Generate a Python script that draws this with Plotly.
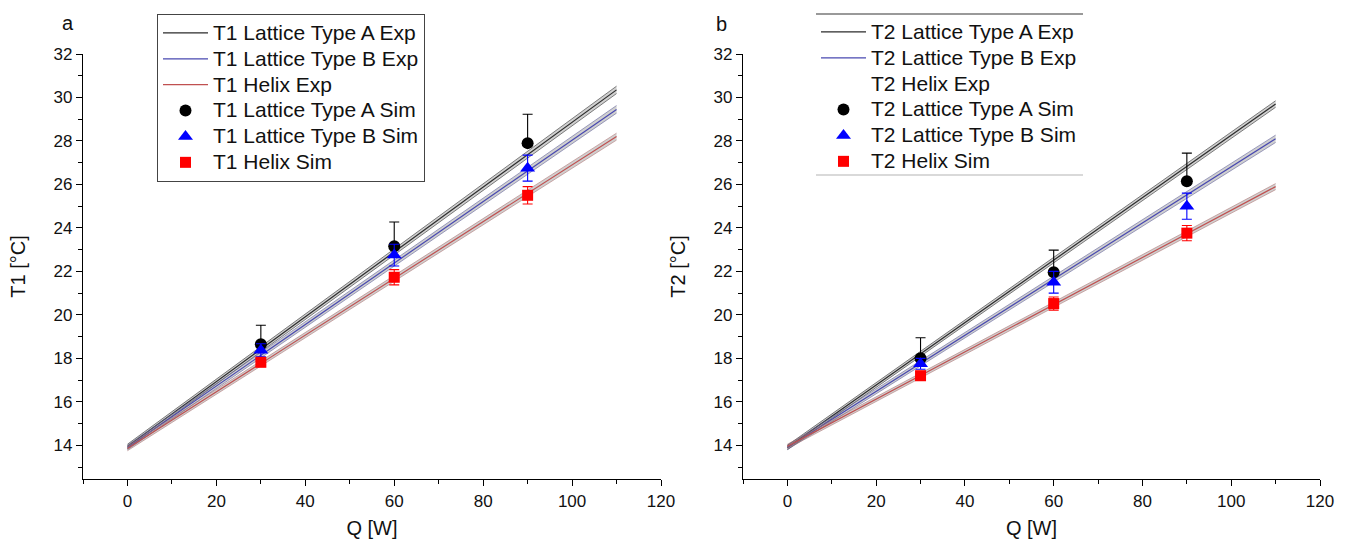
import plotly.graph_objects as go

# ---------------- data ----------------
fit_x = [0, 110]
sim_x = [30, 60, 90]

# Panel a (T1): linear fit lines (centre, lower band, upper band) at fit_x
t1_A_exp = [13.95, 30.35]
t1_A_lo = [13.85, 30.18]
t1_A_hi = [14.05, 30.52]
t1_B_exp = [13.90, 29.45]
t1_B_lo = [13.80, 29.28]
t1_B_hi = [14.00, 29.63]
t1_H_exp = [13.85, 28.20]
t1_H_lo = [13.75, 28.04]
t1_H_hi = [13.95, 28.36]

t1_A_sim = [18.65, 23.16, 27.9]
t1_A_err_up = [0.87, 1.11, 1.33]
t1_B_sim = [18.37, 22.75, 26.75]
t1_B_err = [0.3, 0.5, 0.6]
t1_H_sim = [17.82, 21.73, 25.5]
t1_H_err = [0.2, 0.35, 0.4]

# Panel b (T2)
t2_A_exp = [13.90, 29.70]
t2_A_lo = [13.80, 29.55]
t2_A_hi = [14.00, 29.85]
t2_B_exp = [13.90, 28.10]
t2_B_lo = [13.80, 27.93]
t2_B_hi = [14.00, 28.27]
t2_H_exp = [13.95, 25.90]
t2_H_lo = [13.85, 25.76]
t2_H_hi = [14.05, 26.04]

t2_A_sim = [18.0, 21.96, 26.15]
t2_A_err_up = [0.95, 1.02, 1.29]
t2_B_sim = [17.75, 21.5, 25.0]
t2_B_err = [0.25, 0.5, 0.6]
t2_H_sim = [17.2, 20.52, 23.76]
t2_H_err = [0.2, 0.3, 0.35]

x_ticks = [0, 20, 40, 60, 80, 100, 120]
y_ticks = [14, 16, 18, 20, 22, 24, 26, 28, 30, 32]

FONT = "Liberation Sans, Arial, sans-serif"
BAND_FILL = "rgba(120,120,120,0.35)"
LINE_COL = {"A": "#2b2b2b", "B": "#4848b0", "H": "#c05050"}
EDGE_COL = {"A": "rgba(60,60,60,0.8)", "B": "rgba(90,90,150,0.7)", "H": "rgba(170,110,110,0.7)"}
MK = {"A": ("circle", "black", 12), "B": ("triangle-up", "#0000ff", 13), "H": ("square", "#ff0000", 11)}


def lbl(s):
    return '<span style="font-size:21px">' + s + '</span>'


fig = go.Figure()


def add_fit(xa, ya, key, centre, lo, hi, name, legend, show_leg=True):
    fig.add_trace(go.Scatter(x=fit_x, y=lo, mode="lines", line=dict(color=EDGE_COL[key], width=0.8),
                             xaxis=xa, yaxis=ya, showlegend=False, hoverinfo="skip"))
    fig.add_trace(go.Scatter(x=fit_x, y=hi, mode="lines", line=dict(color=EDGE_COL[key], width=0.8),
                             fill="tonexty", fillcolor=BAND_FILL,
                             xaxis=xa, yaxis=ya, showlegend=False, hoverinfo="skip"))
    fig.add_trace(go.Scatter(x=fit_x, y=centre, mode="lines", line=dict(color=LINE_COL[key], width=1.2),
                             xaxis=xa, yaxis=ya, name=lbl(name), legend=legend, showlegend=show_leg))


def add_sim(xa, ya, key, yv, up, down, name, legend):
    sym, col, size = MK[key]
    fig.add_trace(go.Scatter(
        x=sim_x, y=yv, mode="markers", name=lbl(name), legend=legend,
        marker=dict(symbol=sym, color=col, size=size, line=dict(width=0)),
        error_y=dict(type="data", symmetric=False, array=up, arrayminus=down,
                     color=col, thickness=1.1, width=5),
        xaxis=xa, yaxis=ya))


zero = [0, 0, 0]
# Panel a
add_fit("x", "y", "A", t1_A_exp, t1_A_lo, t1_A_hi, "T1 Lattice Type A Exp", "legend")
add_fit("x", "y", "B", t1_B_exp, t1_B_lo, t1_B_hi, "T1 Lattice Type B Exp", "legend")
add_fit("x", "y", "H", t1_H_exp, t1_H_lo, t1_H_hi, "T1 Helix Exp", "legend")
add_sim("x", "y", "A", t1_A_sim, t1_A_err_up, zero, "T1 Lattice Type A Sim", "legend")
add_sim("x", "y", "B", t1_B_sim, t1_B_err, t1_B_err, "T1 Lattice Type B Sim", "legend")
add_sim("x", "y", "H", t1_H_sim, t1_H_err, t1_H_err, "T1 Helix Sim", "legend")

# Panel b
add_fit("x2", "y2", "A", t2_A_exp, t2_A_lo, t2_A_hi, "T2 Lattice Type A Exp", "legend2")
add_fit("x2", "y2", "B", t2_B_exp, t2_B_lo, t2_B_hi, "T2 Lattice Type B Exp", "legend2")
add_fit("x2", "y2", "H", t2_H_exp, t2_H_lo, t2_H_hi, "T2 Helix Exp", "legend2", show_leg=False)
# legend entry for helix exp in panel b is drawn without a visible line (as in the reference)
fig.add_trace(go.Scatter(x=[None], y=[None], mode="lines", line=dict(color="rgba(255,255,255,0)", width=1),
                         name=lbl("T2 Helix Exp"), legend="legend2", xaxis="x2", yaxis="y2"))
add_sim("x2", "y2", "A", t2_A_sim, t2_A_err_up, zero, "T2 Lattice Type A Sim", "legend2")
add_sim("x2", "y2", "B", t2_B_sim, t2_B_err, t2_B_err, "T2 Lattice Type B Sim", "legend2")
add_sim("x2", "y2", "H", t2_H_sim, t2_H_err, t2_H_err, "T2 Helix Sim", "legend2")

W, H = 1346, 543


def px(x):
    return x / W


def py(y):
    return 1 - y / H


xax = dict(range=[-10, 120], tickmode="array", tickvals=x_ticks, ticks="outside", ticklen=6, tickwidth=1.3,
           tickcolor="black", showline=True, linecolor="black", linewidth=1.3, showgrid=False, zeroline=False,
           automargin=False,
           minor=dict(ticks="outside", dtick=10, tick0=0, ticklen=4, tickwidth=1.2, tickcolor="black"),
           tickfont=dict(family=FONT, size=17, color="#111"),
           title=dict(text="Q [W]", font=dict(family=FONT, size=20, color="#111"), standoff=11))
yax = dict(range=[12.45, 32], tickmode="array", tickvals=y_ticks, ticks="outside", ticklen=6, tickwidth=1.3,
           tickcolor="black", showline=True, linecolor="black", linewidth=1.3, showgrid=False, zeroline=False,
           automargin=False,
           minor=dict(ticks="outside", dtick=1, tick0=0, ticklen=4, tickwidth=1.2, tickcolor="black"),
           tickfont=dict(family=FONT, size=17, color="#111"))

LEG_FONT = dict(family=FONT, size=17.6, color="#111")

fig.update_layout(
    width=W, height=H, margin=dict(l=0, r=0, t=0, b=0, autoexpand=False),
    paper_bgcolor="white", plot_bgcolor="white",
    font=dict(family=FONT, size=17, color="#111"),
    xaxis=dict(xax, domain=[px(83), px(661)], anchor="y"),
    yaxis=dict(yax, domain=[py(479), py(54)], anchor="x",
               title=dict(text="T1 [°C]", font=dict(family=FONT, size=20, color="#111"), standoff=22)),
    xaxis2=dict(xax, domain=[px(743), px(1320)], anchor="y2"),
    yaxis2=dict(yax, domain=[py(479), py(54)], anchor="x2",
                title=dict(text="T2 [°C]", font=dict(family=FONT, size=20, color="#111"), standoff=22)),
    legend=dict(x=px(157), y=py(14), xanchor="left", yanchor="top", bgcolor="white",
                bordercolor="#444", borderwidth=1, itemwidth=45, traceorder="normal",
                font=LEG_FONT, tracegroupgap=0),
    legend2=dict(x=px(816), y=py(14), xanchor="left", yanchor="top", bgcolor="rgba(0,0,0,0)",
                 borderwidth=0, itemwidth=45, traceorder="normal",
                 font=LEG_FONT, tracegroupgap=0),
    annotations=[
        dict(text="a", x=px(68), y=py(23), xref="paper", yref="paper", showarrow=False,
             xanchor="center", yanchor="middle", font=dict(family=FONT, size=20, color="#111")),
        dict(text="b", x=px(721), y=py(24), xref="paper", yref="paper", showarrow=False,
             xanchor="center", yanchor="middle", font=dict(family=FONT, size=20, color="#111")),
    ],
    shapes=[
        dict(type="line", xref="paper", yref="paper", x0=px(816), x1=px(1083), y0=py(14), y1=py(14),
             line=dict(color="#777", width=1.5)),
        dict(type="line", xref="paper", yref="paper", x0=px(816), x1=px(1083), y0=py(175), y1=py(175),
             line=dict(color="#ccc", width=1.5)),
    ],
)

fig.write_html("out.html", config={"displayModeBar": False},
               post_script="document.body.style.margin='0';")
